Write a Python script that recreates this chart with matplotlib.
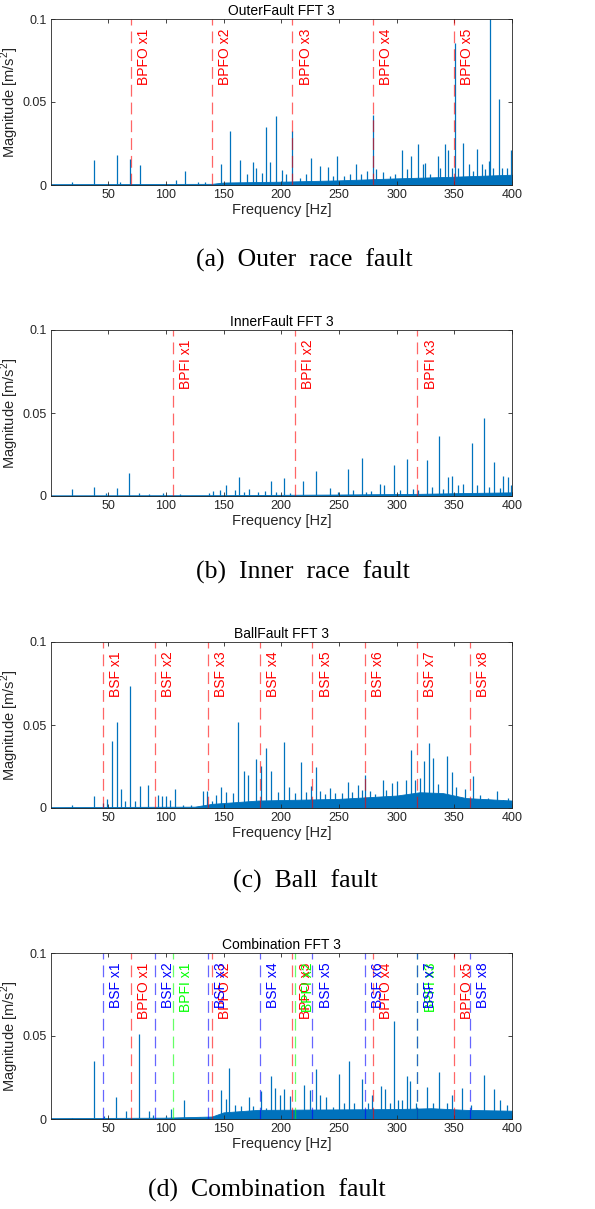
import numpy as np
import matplotlib
matplotlib.use("Agg")
import matplotlib.pyplot as plt

plt.rcParams["font.family"] = ["Liberation Sans", "DejaVu Sans"]
plt.rcParams["mathtext.fontset"] = "custom"
plt.rcParams["mathtext.rm"] = "Liberation Sans"
plt.rcParams["lines.scale_dashes"] = False

SPEC = "#0072BD"
AX_GRAY = "#262626"

# ---- fault frequency lines (Hz) ----
bpfo_f = [69.9, 139.8, 209.7, 279.6, 349.5]
bpfo_lbl = ["BPFO x1", "BPFO x2", "BPFO x3", "BPFO x4", "BPFO x5"]
bpfi_f = [106.0, 212.0, 318.0]
bpfi_lbl = ["BPFI x1", "BPFI x2", "BPFI x3"]
bsf_f = [45.4, 90.8, 136.2, 181.6, 227.0, 272.4, 317.8, 363.2]
bsf_lbl = ["BSF x1", "BSF x2", "BSF x3", "BSF x4", "BSF x5", "BSF x6", "BSF x7", "BSF x8"]

# ---- (a) outer race: peaks and noise floor ----
outer_pf = [18.5, 37.9, 57.6, 60.7, 69.1, 77.2, 108.5, 116.3, 128, 134, 147.5, 155.9, 164,
            170.4, 175.6, 178.4, 183.6, 186.6, 190, 195.5, 201, 204.5, 209.4, 216, 221.3,
            226.2, 234, 240.3, 245, 248.7, 254, 260, 265.2, 269, 274, 279.7, 282, 288.3,
            294.7, 298.5, 304.8, 309, 312.9, 318.7, 323, 325, 329, 335.5, 337.5, 341.9,
            344.2, 347.6, 350.3, 353.4, 357.8, 363, 366.5, 369.9, 373.6, 376.5, 380,
            380.9, 383.8, 388.7, 391, 395.4, 399.1]
outer_pa = [0.002, 0.015, 0.018, 0.002, 0.0156, 0.012, 0.003, 0.0083, 0.002, 0.002, 0.0128,
            0.0324, 0.0148, 0.0067, 0.0136, 0.010, 0.0075, 0.0348, 0.0136, 0.0413, 0.0093,
            0.0065, 0.0328, 0.0045, 0.0069, 0.016, 0.0113, 0.011, 0.0055, 0.0176, 0.0057,
            0.0069, 0.0126, 0.0069, 0.0085, 0.0423, 0.0095, 0.0081, 0.0055, 0.0065, 0.0213,
            0.0095, 0.0174, 0.0249, 0.0126, 0.013, 0.0065, 0.0174, 0.0105, 0.0249, 0.0209,
            0.0105, 0.0854, 0.0105, 0.0253, 0.0126, 0.0085, 0.0219, 0.0126, 0.0095, 0.0142,
            0.1, 0.0105, 0.052, 0.0105, 0.010, 0.021]
outer_ff = [0, 140, 150, 200, 250, 300, 350, 400]
outer_fa = [0.0005, 0.0007, 0.0015, 0.002, 0.0028, 0.004, 0.005, 0.0062]

# ---- (b) inner race ----
inner_pf = [18.5, 37.9, 48, 57.3, 68.5, 77, 85, 97.5, 112, 137, 141, 146.6, 152.5, 160,
            163.4, 168, 172, 180, 185.7, 191.5, 195.8, 202.5, 208, 218.9, 230.5, 242, 249,
            258, 262.3, 270.1, 273.9, 278, 286, 289.2, 297.9, 302.8, 309.2, 314.4, 318.7,
            326, 330.3, 337, 340.4, 344.7, 348.2, 353.5, 357.8, 365, 369.3, 376, 380.3,
            384.7, 389.6, 392.5, 396.2, 399]
inner_pa = [0.004, 0.0056, 0.002, 0.0046, 0.014, 0.002, 0.0015, 0.002, 0.0015, 0.002, 0.003,
            0.0036, 0.0066, 0.0036, 0.0112, 0.0026, 0.0042, 0.0026, 0.003, 0.009, 0.0026,
            0.011, 0.002, 0.009, 0.015, 0.0046, 0.0026, 0.0163, 0.0036, 0.0227, 0.0026,
            0.003, 0.007, 0.0064, 0.0185, 0.0036, 0.0221, 0.004, 0.0036, 0.0217, 0.0056,
            0.0361, 0.0042, 0.0116, 0.0118, 0.0066, 0.007, 0.0317, 0.0066, 0.0468, 0.0056,
            0.0207, 0.005, 0.012, 0.0116, 0.0066]
inner_ff = [0, 150, 250, 320, 360, 400]
inner_fa = [0.0004, 0.0005, 0.0009, 0.0013, 0.0018, 0.0022]

# ---- (c) ball ----
ball_pf = [18.5, 37.9, 45.3, 49.2, 53.5, 57.8, 61, 65, 69.1, 72.9, 77.2, 84.5, 93.1, 96.9,
           100.4, 104, 108.2, 115, 122, 132.2, 135.9, 140, 143.8, 147.5, 151.8, 158.3,
           162.5, 167.5, 171.2, 178.5, 182.8, 187.1, 191.5, 197.3, 202.5, 206.8, 211.7,
           217.5, 221.8, 226.2, 229.9, 233.4, 237.8, 242.1, 246.5, 252.3, 257.5, 261,
           266.2, 269.7, 273, 276.8, 281.1, 288.3, 291.2, 295.6, 300.5, 308, 312.1, 315.8,
           320.1, 323.6, 328, 331.7, 336, 343.9, 347.6, 351.9, 359.2, 366.5, 372.3, 379.5,
           386.8, 392.5, 396.9]
ball_pa = [0.002, 0.0074, 0.003, 0.0054, 0.0406, 0.0516, 0.0114, 0.0044, 0.0733, 0.004,
           0.013, 0.0141, 0.008, 0.0074, 0.0074, 0.0046, 0.0114, 0.002, 0.002, 0.0102,
           0.0104, 0.004, 0.008, 0.0124, 0.0094, 0.009, 0.0518, 0.0223, 0.020, 0.0295,
           0.0255, 0.0361, 0.0221, 0.0094, 0.0396, 0.0126, 0.009, 0.0275, 0.0094, 0.013,
           0.0249, 0.010, 0.0086, 0.012, 0.009, 0.009, 0.0155, 0.0094, 0.014, 0.0106,
           0.0197, 0.010, 0.0086, 0.0167, 0.011, 0.015, 0.016, 0.017, 0.0351, 0.017, 0.018,
           0.0281, 0.0392, 0.0301, 0.0147, 0.0311, 0.0217, 0.0126, 0.0114, 0.0195, 0.008,
           0.006, 0.010, 0.005, 0.006]
ball_ff = [0, 125, 140, 180, 250, 300, 320, 340, 360, 400]
ball_fa = [0.0005, 0.0008, 0.0025, 0.0045, 0.0055, 0.0075, 0.0095, 0.009, 0.006, 0.0045]

# ---- (d) combination ----
comb_pf = [18.5, 37.9, 46.8, 57, 65.6, 76.6, 85, 88.8, 100.4, 104.2, 115.7, 130, 148.1,
           152.5, 154.7, 160.2, 165.4, 172.1, 175.6, 182.8, 187.1, 191.5, 194.3, 198.7,
           202.2, 207.4, 211.7, 219.5, 224.7, 229.9, 233.9, 239.1, 244.9, 249.9, 254.3,
           258.6, 263.2, 269.6, 274.8, 278.3, 286.4, 289.9, 294.3, 297.9, 301.4, 305.1,
           309.2, 311.5, 316.7, 326, 331.7, 337, 343.3, 348.2, 356.3, 364.1, 375.7, 384.4,
           389.6, 395.4]
comb_pa = [0.0006, 0.0351, 0.0016, 0.0133, 0.0046, 0.0514, 0.005, 0.0026, 0.0016, 0.006,
           0.0116, 0.001, 0.0177, 0.0122, 0.0307, 0.0086, 0.0076, 0.0133, 0.008, 0.0167,
           0.0066, 0.0257, 0.0187, 0.0147, 0.018, 0.0136, 0.004, 0.0203, 0.0177, 0.0301,
           0.0147, 0.0133, 0.0072, 0.0271, 0.0096, 0.0347, 0.0096, 0.0241, 0.0096, 0.0143,
           0.0197, 0.018, 0.0096, 0.0588, 0.0116, 0.0116, 0.0261, 0.0231, 0.0096, 0.0191,
           0.0096, 0.0283, 0.0096, 0.0147, 0.0187, 0.0086, 0.0263, 0.0183, 0.0116, 0.0086]
comb_ff = [0, 100, 140, 150, 180, 300, 330, 360, 400]
comb_fa = [0.0005, 0.0008, 0.0015, 0.004, 0.0055, 0.006, 0.0065, 0.0055, 0.005]

x_ticks = [50, 100, 150, 200, 250, 300, 350, 400]
y_ticks = [0, 0.05, 0.1]
y_ticklabels = ["0", "0.05", "0.1"]


def draw_panel(ax, title, pf, pa, ff, fa, markers):
    ax.fill_between(ff, 0, fa, color=SPEC, lw=0.6)
    ax.vlines(pf, 0, pa, color=SPEC, lw=0.9)
    for pos, labels, col in markers:
        for f, lbl in zip(pos, labels):
            ln = ax.axvline(f, color=col, lw=0.9, alpha=0.6)
            ln.set_dashes((8.5, 4.3))
            ax.annotate(lbl, xy=(f, 0.1), xytext=(4.5, -7), textcoords="offset points",
                        rotation=90, ha="left", va="top", color=col, fontsize=10,
                        clip_on=False)
    ax.set_xlim(0.5, 400)
    ax.set_ylim(0, 0.1)
    ax.set_xticks(x_ticks)
    ax.set_yticks(y_ticks)
    ax.set_yticklabels(y_ticklabels)
    ax.tick_params(direction="in", top=True, right=True, labelsize=9, colors=AX_GRAY,
                   length=3, width=0.6, pad=3)
    for s in ax.spines.values():
        s.set_color(AX_GRAY)
        s.set_linewidth(0.6)
    ax.set_title(title, fontsize=10, color="#000000", pad=3)
    ax.set_xlabel("Frequency [Hz]", fontsize=10.5, color=AX_GRAY, labelpad=1)
    ax.set_ylabel("Magnitude [m/s$^2$]", fontsize=10.5, color=AX_GRAY, labelpad=1)


fig = plt.figure(figsize=(5.95, 12.09), dpi=100)
H = 1209.0
ax_left, ax_w = 51 / 595, 461 / 595
tops = [19, 330, 642, 953]
axes = [fig.add_axes([ax_left, 1 - (t + 166) / H, ax_w, 166 / H]) for t in tops]

red, green, blue = "#FF0000", "#00FF00", "#0000FF"
draw_panel(axes[0], "OuterFault FFT 3", outer_pf, outer_pa, outer_ff, outer_fa,
           [(bpfo_f, bpfo_lbl, red)])
draw_panel(axes[1], "InnerFault FFT 3", inner_pf, inner_pa, inner_ff, inner_fa,
           [(bpfi_f, bpfi_lbl, red)])
draw_panel(axes[2], "BallFault FFT 3", ball_pf, ball_pa, ball_ff, ball_fa,
           [(bsf_f, bsf_lbl, red)])
draw_panel(axes[3], "Combination FFT 3", comb_pf, comb_pa, comb_ff, comb_fa,
           [(bpfo_f, bpfo_lbl, red), (bpfi_f, bpfi_lbl, green), (bsf_f, bsf_lbl, blue)])

captions = ["(a)  Outer  race  fault", "(b)  Inner  race  fault", "(c)  Ball  fault",
            "(d)  Combination  fault"]
cap_x = [304, 303, 305, 267]
cap_y = [260, 572, 881, 1190]
for txt, cx, cy in zip(captions, cap_x, cap_y):
    fig.text(cx / 595, 1 - cy / H, txt, ha="center", va="center", fontsize=18.5,
             family="Liberation Serif", color="black")

fig.savefig("out.png", dpi=100)
